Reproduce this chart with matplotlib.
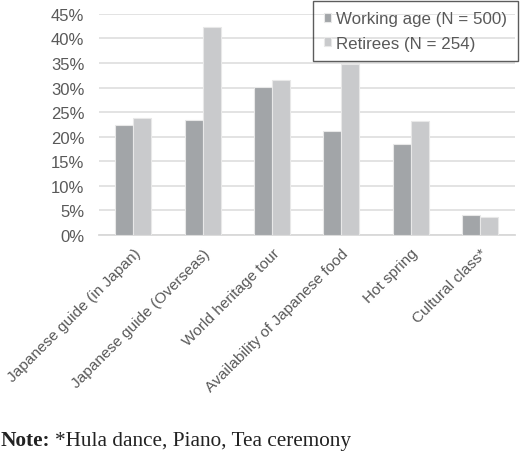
import numpy as np
import matplotlib.pyplot as plt
from matplotlib.ticker import PercentFormatter

categories = ['Japanese guide (in Japan)', 'Japanese guide (Overseas)',
              'World heritage tour', 'Availability of Japanese food',
              'Hot spring', 'Cultural class*']
working_age = [22.3, 23.5, 30.1, 21.1, 18.5, 4.1]
retirees = [23.8, 42.4, 31.6, 34.8, 23.3, 3.6]
series_labels = ['Working age (N = 500)', 'Retirees (N = 254)']

text_gray = '#595959'
plt.rcParams['font.family'] = ['Liberation Sans', 'DejaVu Sans']

fig = plt.figure(figsize=(5.2, 4.52), dpi=100)
ax = fig.add_axes([0.19, 0.478, 0.80, 0.489])

x = np.arange(len(categories))
w = 0.26
ax.bar(x - w / 2, working_age, w, color='#a2a5a8', edgecolor='#e8e8e8',
       linewidth=0.8, label=series_labels[0], zorder=3)
ax.bar(x + w / 2, retirees, w, color='#c9cacc', edgecolor='#e8e8e8',
       linewidth=0.8, label=series_labels[1], zorder=3)

ax.set_xlim(-0.5, len(categories) - 0.5)
ax.set_ylim(0, 45)
ax.set_yticks(np.arange(0, 46, 5))
ax.yaxis.set_major_formatter(PercentFormatter(decimals=0))
ax.grid(axis='y', color='#e0e0e0', linewidth=1.3, zorder=0)
for s in ['top', 'right', 'left']:
    ax.spines[s].set_visible(False)
ax.spines['bottom'].set_color('#d9d9d9')
ax.spines['bottom'].set_linewidth(1.3)
ax.tick_params(axis='y', length=0, labelsize=12, labelcolor=text_gray, pad=10.5)
ax.set_xticks(x)
ax.set_xticklabels(categories, rotation=45, ha='right', rotation_mode='anchor')
ax.tick_params(axis='x', length=0, labelsize=11.1, labelcolor=text_gray, pad=8)

leg = fig.legend(loc='upper right', bbox_to_anchor=(0.999, 1.0), fontsize=12.2,
                 frameon=True, fancybox=False, edgecolor='#333333',
                 handlelength=0.45, handleheight=0.45, handletextpad=0.3,
                 labelspacing=0.55, borderpad=0.62, borderaxespad=0.1,
                 labelcolor=text_gray)
leg.get_frame().set_facecolor('none')
leg.get_frame().set_linewidth(1.0)

base_y = 1 - 446 / 452
note = fig.text(0.001, base_y, 'Note:', family='Liberation Serif',
                fontsize=15.3, fontweight='bold', va='baseline', color='#222222')
fig.canvas.draw()
bb = note.get_window_extent().transformed(fig.transFigure.inverted())
fig.text(bb.x1 + 0.009, base_y, '*Hula dance, Piano, Tea ceremony',
         family='Liberation Serif', fontsize=15.3, va='baseline', color='#222222')

fig.savefig('out.png', dpi=100)
